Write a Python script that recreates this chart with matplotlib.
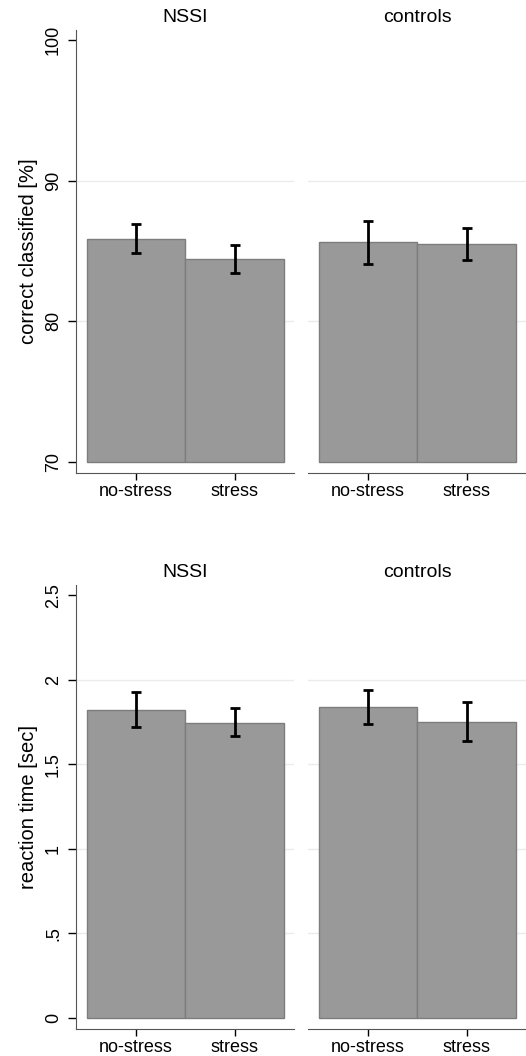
import matplotlib

matplotlib.use("Agg")
import matplotlib.pyplot as plt
import numpy as np

plt.rcParams["font.family"] = ["Liberation Sans", "DejaVu Sans"]

CONDITIONS = ["no-stress", "stress"]
GROUPS = ["NSSI", "controls"]

# correct classified [%]
ACC_MEAN = {"NSSI": [85.85, 84.4], "controls": [85.6, 85.5]}
ACC_LO = {"NSSI": [84.85, 83.4], "controls": [84.1, 84.35]}
ACC_HI = {"NSSI": [86.9, 85.45], "controls": [87.1, 86.6]}
ACC_TICKS = [70, 80, 90, 100]
ACC_TICKLABELS = ["70", "80", "90", "100"]

# reaction time [sec]
RT_MEAN = {"NSSI": [1.82, 1.745], "controls": [1.84, 1.75]}
RT_LO = {"NSSI": [1.72, 1.67], "controls": [1.74, 1.64]}
RT_HI = {"NSSI": [1.925, 1.83], "controls": [1.94, 1.87]}
RT_TICKS = [0, 0.5, 1, 1.5, 2, 2.5]
RT_TICKLABELS = ["0", ".5", "1", "1.5", "2", "2.5"]

BAR = "#999999"
EDGE = "#7d7d7d"
GRID = "#ebebeb"
SPINE = "#555555"
W, H = 526, 1056


def panel(rect, mean, lo, hi, base, ylim, ticks, labels, title, ylabel, show_y):
    ax = fig.add_axes(rect)
    x = np.arange(len(CONDITIONS))
    for t in ticks[1:-1]:
        ax.axhline(t, color=GRID, lw=1, zorder=0)
    ax.bar(x, np.array(mean) - base, bottom=base, width=1.0, color=BAR,
           edgecolor=EDGE, lw=1, zorder=2)
    err = [np.array(mean) - np.array(lo), np.array(hi) - np.array(mean)]
    ax.errorbar(x, mean, yerr=err, fmt="none", ecolor="black", elinewidth=2,
                capsize=3.8, capthick=2, zorder=3)
    ax.set_xlim(-0.61, 1.60)
    ax.set_ylim(*ylim)
    ax.set_xticks(x)
    ax.set_xticklabels(CONDITIONS, fontsize=13)
    ax.tick_params(axis="x", length=5, width=1, color="black", pad=2)
    for s in ("top", "right"):
        ax.spines[s].set_visible(False)
    ax.spines["bottom"].set_color(SPINE)
    ax.spines["left"].set_color(SPINE)
    if show_y:
        ax.set_yticks(ticks)
        ax.set_yticklabels(labels, rotation=90, va="center", fontsize=13)
        ax.tick_params(axis="y", length=6, width=1, color="black", pad=4)
        ax.set_ylabel(ylabel, fontsize=14.5, labelpad=5)
    else:
        ax.spines["left"].set_visible(False)
        ax.set_yticks([])
    ax.set_title(title, fontsize=14, pad=6)
    return ax


fig = plt.figure(figsize=(W / 100, H / 100), dpi=100)

top = (1 - 473 / H, 443 / H)
bot = (1 - 1029 / H, 444 / H)
lefts = [76 / W, 308 / W]
width = 218 / W

for i, g in enumerate(GROUPS):
    panel([lefts[i], top[0], width, top[1]], ACC_MEAN[g], ACC_LO[g], ACC_HI[g],
          70, (69.22, 100.7), ACC_TICKS, ACC_TICKLABELS, g,
          "correct classified [%]", i == 0)
    panel([lefts[i], bot[0], width, bot[1]], RT_MEAN[g], RT_LO[g], RT_HI[g],
          0, (-0.065, 2.56), RT_TICKS, RT_TICKLABELS, g,
          "reaction time [sec]", i == 0)

fig.savefig("out.png", dpi=100)
